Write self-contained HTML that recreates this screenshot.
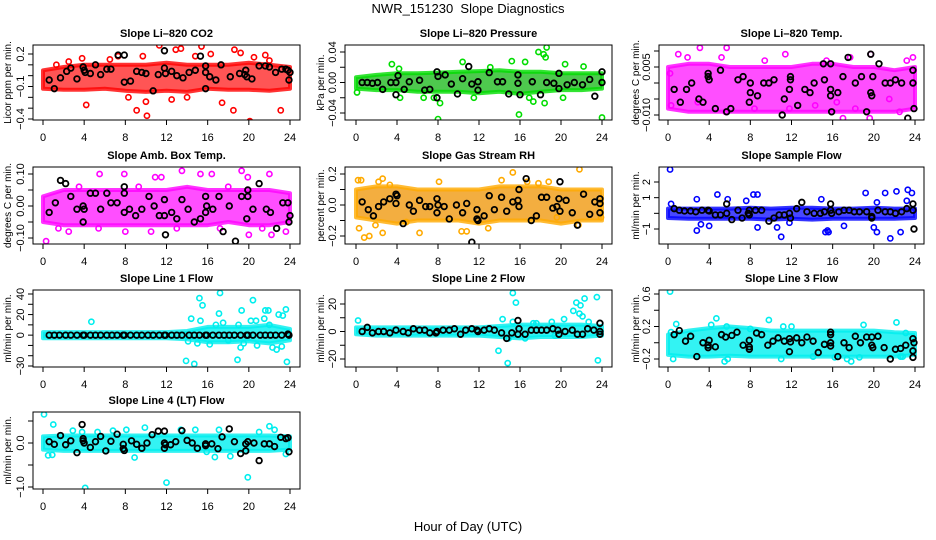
<!DOCTYPE html>
<html><head><meta charset="utf-8">
<style>
html,body{margin:0;padding:0;background:#fff;}
svg{display:block;font-family:"Liberation Sans",Arial,sans-serif;}
</style></head>
<body>
<svg id="chart" width="936" height="540" viewBox="0 0 936 540" xmlns="http://www.w3.org/2000/svg">
<text x="468" y="13" text-anchor="middle" font-size="13" style="white-space:pre">NWR_151230  Slope Diagnostics</text>
<text x="468" y="531" text-anchor="middle" font-size="13">Hour of Day (UTC)</text>
</svg>
<script>
const bandHours=[0,2,4,6,8,10,12,14,16,18,20,22,24];
const xTicks=[0,4,8,12,16,20,24];

const co2BandLo=[-0.12,-0.13,-0.13,-0.12,-0.14,-0.15,-0.14,-0.15,-0.12,-0.13,-0.13,-0.14,-0.12];
const co2BandHi=[0.05,0.08,0.1,0.1,0.1,0.1,0.12,0.1,0.1,0.1,0.12,0.1,0.08];
const co2OutX=[4.2,9.1,10.1,10.0,11.5,11.3,7.3,6.5,12.9,13.4,15.4,14.8,18.6,19.2,19.7,20.1,18.5,23.1,21.6,20.5,22.0,16.3,2.5,1.3,3.8,9.7,14.0,17.4,8.3,12.5];
const co2OutY=[-0.27,-0.32,-0.37,-0.24,-0.47,0.28,0.18,0.15,0.24,0.25,0.27,0.18,0.24,0.21,-0.49,-0.42,-0.32,-0.32,0.19,0.17,0.14,0.2,0.13,0.1,0.16,0.18,-0.2,-0.25,-0.2,-0.22];
const co2BlkX=[0.6,1.1,1.7,2.3,2.7,3.3,3.9,4.0,4.1,4.6,5.1,5.6,6.2,6.6,7.3,7.9,7.9,8.5,9.1,9.6,10.0,10.7,11.2,11.8,11.8,11.9,12.5,13.0,13.6,14.2,14.8,15.3,15.8,15.8,15.8,16.2,16.8,17.3,18.2,19.1,19.6,19.7,19.8,20.3,21.0,21.6,22.0,22.6,23.2,23.6,23.8,23.9,24.0];
const co2BlkY=[-0.04,-0.12,-0.02,0.04,0.07,-0.03,0.08,0.05,0.03,0.02,0.1,0.01,0.06,0.06,0.19,0.19,-0.06,-0.05,0.04,0.03,0.02,-0.14,0.01,0.23,0.07,0.02,0.04,0.0,-0.02,0.03,0.05,0.18,0.03,0.09,-0.12,-0.01,-0.04,0.1,-0.01,0.02,0.01,0.05,-0.01,-0.03,0.09,0.09,0.08,0.03,0.06,0.06,0.05,-0.04,0.03];

const presBandLo=[-0.008,-0.01,-0.01,-0.012,-0.012,-0.012,-0.014,-0.012,-0.015,-0.012,-0.01,-0.01,-0.008];
const presBandHi=[0.007,0.01,0.012,0.012,0.013,0.014,0.015,0.016,0.014,0.014,0.012,0.012,0.012];
const presOutX=[0.1,3.5,4.2,8.0,8.2,7.6,10.4,15.2,16.5,15.9,17.8,18.3,18.6,18.5,18.4,17.3,20.4,20.2,22.2,24.0,11.5,16.9,6.6,13.1,4.3];
const presOutY=[-0.013,0.024,0.018,-0.048,-0.027,-0.02,0.027,0.028,0.027,-0.042,0.04,0.037,0.046,0.033,-0.027,-0.025,0.024,-0.02,0.021,-0.046,-0.02,-0.02,-0.02,0.02,-0.02];
const presBlkX=[0.6,1.1,1.6,2.1,2.6,3.4,3.9,3.9,4.1,4.7,5.2,6.2,6.7,7.2,7.9,7.9,8.0,8.7,9.3,9.9,10.4,11.0,11.3,11.9,11.9,13.0,13.8,14.3,14.9,15.8,15.8,16.0,17.2,18.0,18.6,19.3,19.8,19.8,20.6,21.3,22.1,22.8,23.3,24,24];
const presBlkY=[0,0,-0.001,0,-0.009,0,0,-0.016,0.009,-0.009,0.001,0.003,-0.01,-0.009,-0.02,0.014,0.008,0.01,-0.002,-0.015,0.005,0.021,-0.002,0.001,-0.01,0.013,0.001,0.001,-0.015,0.01,-0.001,-0.016,0.001,-0.016,0,-0.001,-0.008,0.012,-0.003,0,-0.003,0.004,-0.018,0.014,0];

const tempBandLo=[-0.008,-0.009,-0.009,-0.009,-0.009,-0.009,-0.009,-0.009,-0.009,-0.009,-0.009,-0.009,-0.008];
const tempBandHi=[0.005,0.006,0.006,0.005,0.005,0.005,0.005,0.006,0.006,0.005,0.005,0.004,0.005];
const tempOutX=[1.0,3.1,1.9,5.2,5.6,5.7,9.4,11.4,15.4,17.0,17.7,19.6,19.7,18.2,22.5,23.8,23.2,0.3,2.9,8.4,11.8,14.3,16.4,21.5,0.2];
const tempOutY=[0.009,0.011,0.008,0.008,-0.009,0.011,0.007,0.009,0.007,-0.011,0.008,-0.011,0.009,-0.008,-0.009,0.008,0.007,-0.007,-0.006,-0.008,-0.008,-0.007,-0.006,-0.005,0.003];
const tempBlkX=[0.6,1.2,1.8,2.3,3.0,3.4,3.9,3.9,4.0,5.1,4.6,5.7,6.1,6.8,7.3,7.9,8.0,8.0,8.7,9.3,9.8,10.3,11.3,11.8,11.9,11.9,11.1,12.6,13.3,13.8,14.2,15.1,15.2,15.8,15.8,15.9,15.8,16.5,17.0,17.5,18.2,18.8,19.3,19.7,19.7,19.9,19.8,20.5,21.1,21.6,22.1,22.7,23.3,23.8,23.8,23.9];
const tempBlkY=[-0.002,-0.006,-0.002,0.0,-0.005,-0.006,0.002,0.003,0.001,0.004,-0.008,-0.009,-0.008,0.001,0.002,-0.006,0.0,-0.003,-0.004,0.0,0.0,0.001,-0.005,-0.002,0.001,0.002,-0.01,-0.007,-0.002,-0.003,0.0,0.006,0.001,0.006,-0.002,-0.009,-0.004,-0.003,0.002,0.008,0.0,0.002,-0.009,0.009,-0.003,0.002,-0.004,0.006,0.0,0.0,0.001,0.0,-0.011,0.004,0.0,-0.008];

const ambBandLo=[-0.05,-0.06,-0.06,-0.06,-0.06,-0.06,-0.06,-0.06,-0.06,-0.05,-0.06,-0.06,-0.05];
const ambBandHi=[0.03,0.05,0.05,0.05,0.05,0.05,0.05,0.06,0.05,0.05,0.05,0.05,0.04];
const ambOutX=[0.3,2.5,5.5,7.9,10.9,11.5,13.5,15.3,16.4,19.3,19.9,22.0,22.2,23.6,20.0,10.5,5.4,1.5,8.0,13.0,17.2,21.3,3.5,9.3,18.0];
const ambOutY=[-0.11,-0.08,0.1,0.1,0.09,0.09,0.11,0.1,0.1,0.11,0.09,0.1,-0.09,-0.08,-0.09,-0.08,-0.07,-0.07,-0.08,-0.07,-0.07,-0.07,0.06,0.06,0.06];
const ambBlkX=[0.6,1.2,1.7,2.2,2.7,3.3,3.9,3.9,4.0,4.6,5.1,5.6,6.2,6.6,7.2,7.9,7.9,7.9,8.4,9.0,9.6,10.3,10.8,11.3,11.8,11.8,11.9,12.5,13.0,13.5,14.1,14.7,15.3,15.8,15.8,15.9,16.5,17.1,17.5,18.1,18.7,19.3,19.8,19.9,19.9,20.4,21.0,21.7,22.1,22.7,23.3,23.8,23.9,24.0];
const ambBlkY=[-0.02,0.01,0.08,0.07,0.03,-0.01,-0.05,0.0,-0.01,0.04,0.04,-0.01,0.04,0.01,0.01,0.06,-0.02,0.04,-0.01,-0.03,-0.01,0.03,0.0,-0.03,-0.03,0.02,-0.09,-0.02,-0.04,0.02,-0.01,-0.05,-0.04,0.03,-0.02,0.0,-0.01,0.03,-0.08,0.0,-0.11,0.03,-0.04,0.05,0.03,-0.01,0.07,-0.01,-0.02,-0.07,0.01,0.01,-0.05,-0.03];

const rhBandLo=[-0.08,-0.1,-0.12,-0.1,-0.1,-0.1,-0.12,-0.1,-0.1,-0.1,-0.12,-0.1,-0.1];
const rhBandHi=[0.1,0.12,0.12,0.1,0.1,0.1,0.1,0.12,0.12,0.12,0.1,0.1,0.1];
const rhOutX=[0.2,0.5,0.3,0.8,1.3,1.9,2.2,2.6,2.6,3.3,6.2,8.1,10.3,10.8,14.2,15.3,16.7,17.8,21.8,21.7,23.9,12.9,19.6,18.8,4.9];
const rhOutY=[0.16,0.16,-0.15,-0.21,-0.2,-0.13,0.15,0.17,-0.18,0.13,-0.18,0.15,-0.17,-0.17,0.16,0.21,0.15,0.14,0.23,-0.13,-0.08,-0.15,-0.08,0.15,-0.11];
const rhBlkX=[0.6,1.2,1.7,2.2,2.7,3.3,3.9,3.9,4.0,4.6,5.2,5.6,6.2,6.8,7.2,7.9,7.9,8.0,8.6,9.1,9.8,10.4,10.8,11.3,11.8,11.8,11.9,12.5,13.0,13.5,14.2,14.7,15.3,15.8,15.9,15.9,16.6,17.1,17.6,18.1,18.6,19.2,19.6,19.9,19.8,19.9,20.5,21.1,21.6,22.2,22.8,23.3,23.8,23.8,23.8];
const rhBlkY=[0.02,-0.03,-0.07,-0.01,0.02,0.04,0.07,0.01,0.06,-0.12,0.0,-0.04,0.03,-0.01,-0.01,0.04,-0.05,0.0,-0.01,-0.09,0.0,-0.05,0.01,-0.24,-0.03,-0.09,-0.1,-0.07,0.06,-0.03,0.05,-0.04,0.02,0.03,-0.01,0.1,0.17,-0.1,-0.07,0.05,0.05,-0.02,-0.01,0.15,0.04,-0.04,0.03,-0.05,-0.13,0.07,-0.06,0.02,0.04,0.01,-0.05];

const sfBandLo=[-0.3,-0.35,-0.35,-0.35,-0.35,-0.4,-0.35,-0.4,-0.35,-0.35,-0.35,-0.35,-0.3];
const sfBandHi=[0.3,0.3,0.3,0.3,0.35,0.3,0.35,0.35,0.3,0.3,0.35,0.3,0.3];
const sfOutX=[0.2,0.3,2.8,2.8,3.2,4.0,4.8,5.8,8.3,8.7,8.7,10.6,11.0,14.9,15.3,15.5,15.6,17.1,19.2,20.0,20.3,20.3,21.1,21.6,22.2,22.6,23.3,23.7,23.2,11.8,7.6];
const sfOutY=[2.8,0.6,-1.1,0.9,-0.7,-0.8,1.2,0.9,1.2,1.2,-0.9,-0.9,-1.5,0.9,-1.2,-1.1,-1.2,-0.8,1.3,-0.9,-1.2,0.7,1.3,-1.6,1.4,-1.2,1.5,1.3,0.8,-0.6,0.8];
const sfBlkX=[0.6,1.1,1.6,2.2,2.7,3.3,3.9,4.0,4.6,5.1,5.7,5.7,6.2,6.8,7.2,7.8,7.9,7.9,8.5,9.1,9.8,10.3,10.8,11.3,11.8,11.9,12.5,13.0,13.5,14.2,14.8,15.2,15.8,15.8,15.9,16.6,17.1,17.6,18.1,18.6,19.3,19.8,19.8,20.4,21.1,21.6,22.1,22.7,23.2,23.8,23.8,23.9];
const sfBlkY=[0.3,0.2,0.15,0.15,0.1,0.2,0.2,0.15,-0.1,-0.1,0.6,0.0,-0.4,0.2,-0.3,0.0,0.2,-0.1,0.2,0.2,-0.5,-0.3,-0.1,-0.1,0.0,-0.3,0.3,0.7,0.1,0.0,0.0,0.1,0.6,0.2,0.0,0.1,0.2,0.2,0.1,0.1,0.1,-0.2,-0.3,0.2,0.1,0.1,0.0,0.1,0.3,0.6,0.2,-1.0];

const l1BandLo=[-3,-3,-3,-3,-3,-3,-3,-4,-7,-7,-6,-8,-5];
const l1BandHi=[3,3,3,3,3,3,3,4,8,8,8,10,6];
const l1OutX=[4.7,13.9,14.4,14.7,15.2,15.5,15.3,16.2,16.8,17.2,17.1,17.5,18.0,18.9,19.0,19.2,19.3,19.5,20.2,20.4,20.7,20.8,21.5,21.6,21.9,22.3,22.7,22.9,23.2,23.3,23.6,23.7,22.0,15.0,14.1];
const l1OutY=[13,-25,16,-28,36,29,14,-9,10,41,21,12,-5,-24,10,-12,24,-8,14,34,14,-10,16,24,24,-12,-14,20,-11,19,25,-26,10,-8,-6];
const l1BlkX=[0.6,1.1,1.6,2.2,2.7,3.3,3.9,4.0,4.6,5.1,5.6,6.2,6.7,7.2,7.8,7.9,8.5,9.1,9.6,10.2,10.7,11.3,11.8,11.9,12.5,13.0,13.5,14.2,14.7,15.2,15.8,15.9,16.5,17.1,17.6,18.1,18.6,19.2,19.8,19.9,20.4,21.1,21.6,22.1,22.6,23.2,23.8,23.9];
const l1BlkY=[0,0,0,0,0,0,0,0,0,0,0,0,0,0,0,0,0,0,0,0,0,0,0,0,0,0,0,0,0,0,0,0,0,0,0,0,0,0,0,0,0,0,0,0,0,0,1,0];

const l2BandLo=[-2,-3,-3,-3,-3,-3,-3,-4,-5,-4,-4,-4,-3];
const l2BandHi=[3,3,3,3,3,3,3,4,5,5,5,5,4];
const l2OutX=[0.2,13.9,14.3,14.8,14.9,15.3,15.6,15.3,17.3,17.6,19.1,20.3,21.2,21.5,21.8,21.9,22.1,22.3,22.7,23.5,23.6,16.5,19.4];
const l2OutY=[8,-14,9,-23,-5,28,21,7,6,6,7,9,15,21,13,19,11,24,7,25,-21,-5,-3];
const l2BlkX=[0.6,1.1,1.6,2.2,2.7,3.3,3.9,4.6,5.1,5.6,6.2,6.7,7.2,7.8,7.9,8.5,9.1,9.6,10.2,10.7,11.3,11.8,11.9,12.5,13.0,13.5,14.2,14.7,15.2,15.8,15.8,15.9,16.5,17.1,17.6,18.1,18.6,19.2,19.7,19.8,20.4,21.1,21.6,22.1,22.6,23.2,23.8,23.8,23.8];
const l2BlkY=[0,3,-1,0,0,-1,1,0,-1,2,1,1,-1,-1,0,1,1,2,-2,1,2,1,0,1,2,1,-1,-5,-1,8,-2,2,-2,1,1,1,1,2,1,-2,0,1,-2,-2,2,1,6,0,-2];

const l3BandLo=[-0.15,-0.17,-0.17,-0.16,-0.17,-0.17,-0.17,-0.17,-0.17,-0.17,-0.17,-0.17,-0.15];
const l3BandHi=[0.1,0.15,0.18,0.2,0.18,0.15,0.15,0.15,0.15,0.15,0.15,0.13,0.12];
const l3OutX=[0.2,0.5,0.8,4.7,5.5,5.8,9.8,11.0,14.1,16.2,17.4,17.8,18.6,19.0,22.2,22.6,22.8,23.1,0.3,4.2,5.7,8.0,11.2,12.0];
const l3OutY=[0.63,-0.2,0.23,0.3,-0.23,-0.2,0.28,-0.2,-0.17,-0.18,-0.2,-0.23,-0.18,0.22,0.25,-0.17,-0.17,0.12,0.13,0.22,0.2,0.17,0.2,0.2];
const l3BlkX=[0.6,1.1,1.7,2.2,2.8,3.4,3.9,3.9,4.0,4.6,5.2,5.6,6.2,6.7,7.3,7.9,7.9,7.9,8.6,9.1,9.7,10.2,10.7,11.3,11.8,11.8,11.9,12.5,13.0,13.5,14.1,14.6,15.2,15.8,15.8,15.8,15.8,16.5,17.1,17.6,18.2,18.7,19.3,19.8,19.8,19.9,20.4,21.0,21.6,22.1,22.6,23.1,23.8,23.8,23.8,23.9];
const l3BlkY=[0.1,0.15,0.02,0.08,-0.17,0.0,-0.06,-0.03,0.03,-0.05,0.1,0.07,0.09,0.13,-0.03,0.03,-0.08,-0.05,0.12,0.1,-0.03,0.02,0.06,0.02,0.05,-0.11,0.01,0.06,0.0,0.07,0.02,-0.12,-0.02,0.13,0.1,0.0,-0.04,-0.17,0.0,-0.06,0.08,0.0,0.07,-0.03,0.07,-0.06,0.08,-0.06,-0.2,-0.08,-0.07,-0.03,0.05,-0.1,-0.18,0.0];

const l4BandLo=[-0.15,-0.18,-0.18,-0.18,-0.18,-0.18,-0.18,-0.18,-0.18,-0.18,-0.18,-0.18,-0.15];
const l4BandHi=[0.15,0.17,0.17,0.17,0.17,0.17,0.17,0.17,0.17,0.17,0.17,0.17,0.15];
const l4OutX=[0.1,1.0,0.5,0.9,4.1,3.8,5.3,6.8,8.1,8.9,9.9,12.0,13.4,16.7,17.1,18.2,19.9,21.0,22.0,22.5,23.6,2.9,14.8,15.9];
const l4OutY=[0.65,0.42,-0.28,-0.27,-1.02,0.25,0.25,0.28,0.3,-0.33,0.35,-0.9,0.3,-0.32,0.3,-0.3,-0.78,0.25,0.38,0.3,-0.25,0.28,0.3,-0.2];
const l4BlkX=[0.6,1.1,1.7,2.2,2.7,3.3,3.8,3.9,3.9,4.0,4.6,5.1,5.6,6.1,6.6,7.2,7.8,7.8,7.9,8.6,9.1,9.6,10.1,10.6,11.2,11.8,11.8,11.9,11.8,12.4,12.9,13.5,14.0,14.5,15.0,15.8,15.8,16.4,17.0,17.4,18.1,18.6,19.2,19.7,19.7,19.9,20.5,21.0,21.5,22.0,22.5,23.1,23.6,23.8,23.9];
const l4BlkY=[0.03,-0.03,0.17,-0.04,0.05,-0.22,0.42,0.1,0.05,0.0,-0.1,0.03,0.15,-0.18,0.04,0.2,-0.03,-0.13,-0.17,0.05,-0.03,-0.12,0.0,0.19,0.27,0.27,0.0,-0.04,-0.12,-0.04,0.03,0.28,0.06,0.0,-0.12,-0.02,-0.06,-0.02,-0.13,0.14,0.32,0.03,-0.24,-0.02,-0.18,0.03,0.0,-0.4,-0.02,-0.02,-0.08,0.13,0.1,0.12,-0.2];

const cols=[{l:33,r:300,x0:43,x24:290,yt:7,yl:20},{l:345,r:612,x0:356,x24:602,yt:320,yl:338},{l:659,r:924,x0:668,x24:915,yt:635,yl:652}];
const rows=[{t:45,b:120},{t:167,b:244},{t:290,b:367},{t:412,b:489}];

const panels=[
 {id:'co2',title:'Slope Li\u2013820 CO2',ylab:'Licor ppm per min.',c:0,r:0,color:'#ff0000',fill:'#ff2a2a',v1:0.2,p1:54,v2:-0.4,p2:119,ticks:[0.2,0.1,0,-0.1,-0.2,-0.3,-0.4],labels:[0.2,-0.1,-0.4],fmt:1,lo:co2BandLo,hi:co2BandHi,ox:co2OutX,oy:co2OutY,bx:co2BlkX,by:co2BlkY},
 {id:'pressure',title:'Slope Li\u2013820 Pressure',ylab:'kPa per min.',c:1,r:0,color:'#00dd00',fill:'#22bb22',v1:0.04,p1:52,v2:-0.04,p2:113,ticks:[0.04,0.02,0,-0.02,-0.04],labels:[0.04,0,-0.04],fmt:2,lo:presBandLo,hi:presBandHi,ox:presOutX,oy:presOutY,bx:presBlkX,by:presBlkY},
 {id:'temp',title:'Slope Li\u2013820 Temp.',ylab:'degrees C per min.',c:2,r:0,color:'#ff00ff',fill:'#ff22ff',v1:0.005,p1:67,v2:-0.01,p2:115,ticks:[0.01,0.005,0,-0.005,-0.01],labels:[0.005,-0.01],fmt:3,lo:tempBandLo,hi:tempBandHi,ox:tempOutX,oy:tempOutY,bx:tempBlkX,by:tempBlkY},
 {id:'amb-box-temp',title:'Slope Amb. Box Temp.',ylab:'degrees C per min.',c:0,r:1,color:'#ff00ff',fill:'#ff22ff',v1:0.1,p1:174,v2:-0.1,p2:238,ticks:[0.1,0.05,0,-0.05,-0.1],labels:[0.1,0,-0.1],fmt:2,lo:ambBandLo,hi:ambBandHi,ox:ambOutX,oy:ambOutY,bx:ambBlkX,by:ambBlkY},
 {id:'gas-stream-rh',title:'Slope Gas Stream RH',ylab:'percent per min.',c:1,r:1,color:'#ffaa00',fill:'#f09a10',v1:0.2,p1:174,v2:-0.2,p2:236,ticks:[0.2,0.1,0,-0.1,-0.2],labels:[0.2,0,-0.2],fmt:1,lo:rhBandLo,hi:rhBandHi,ox:rhOutX,oy:rhOutY,bx:rhBlkX,by:rhBlkY},
 {id:'sample-flow',title:'Slope Sample Flow',ylab:'ml/min per min.',c:2,r:1,color:'#0000ff',fill:'#1a1aff',v1:2,p1:182,v2:-1,p2:229,ticks:[2,1,0,-1],labels:[2,1,-1],fmt:0,lo:sfBandLo,hi:sfBandHi,ox:sfOutX,oy:sfOutY,bx:sfBlkX,by:sfBlkY},
 {id:'line1-flow',title:'Slope Line 1 Flow',ylab:'ml/min per min.',c:0,r:2,color:'#00eeee',fill:'#00f0f0',v1:40,p1:294,v2:-30,p2:366,ticks:[40,30,20,10,0,-10,-20,-30],labels:[40,20,0,-30],fmt:0,lo:l1BandLo,hi:l1BandHi,ox:l1OutX,oy:l1OutY,bx:l1BlkX,by:l1BlkY},
 {id:'line2-flow',title:'Slope Line 2 Flow',ylab:'ml/min per min.',c:1,r:2,color:'#00eeee',fill:'#00f0f0',v1:20,p1:304,v2:-20,p2:359,ticks:[20,10,0,-10,-20],labels:[20,0,-20],fmt:0,lo:l2BandLo,hi:l2BandHi,ox:l2OutX,oy:l2OutY,bx:l2BlkX,by:l2BlkY},
 {id:'line3-flow',title:'Slope Line 3 Flow',ylab:'ml/min per min.',c:2,r:2,color:'#00eeee',fill:'#00f0f0',v1:0.6,p1:294,v2:-0.2,p2:359,ticks:[0.6,0.4,0.2,0,-0.2],labels:[0.6,0.2,-0.2],fmt:1,lo:l3BandLo,hi:l3BandHi,ox:l3OutX,oy:l3OutY,bx:l3BlkX,by:l3BlkY},
 {id:'line4-flow',title:'Slope Line 4 (LT) Flow',ylab:'ml/min per min.',c:0,r:3,color:'#00eeee',fill:'#00f0f0',v1:0,p1:443,v2:-1,p2:487,ticks:[0.5,0,-0.5,-1],labels:[0,-1],fmt:1,lo:l4BandLo,hi:l4BandHi,ox:l4OutX,oy:l4OutY,bx:l4BlkX,by:l4BlkY}
];

const NS='http://www.w3.org/2000/svg';
const svg=document.getElementById('chart');
function mk(tag,attrs,parent){const e=document.createElementNS(NS,tag);for(const k in attrs)e.setAttribute(k,attrs[k]);(parent||svg).appendChild(e);return e;}

panels.forEach(p=>{
  const col=cols[p.c],row=rows[p.r];
  const xs=h=>col.x0+(col.x24-col.x0)*h/24;
  const ys=v=>p.p1+(p.p2-p.p1)*(v-p.v1)/(p.v2-p.v1);
  const g=mk('g',{});
  
  
  const cx=(col.l+col.r)/2;
  const t=mk('text',{x:cx,y:row.t-8,'text-anchor':'middle','font-size':'11','font-weight':'bold'},g);
  t.textContent=p.title;
  
  
  const cp=mk('clipPath',{id:'cp-'+p.id},g);
  mk('rect',{x:col.l,y:row.t,width:col.r-col.l,height:row.b-row.t},cp);
  const pg=mk('g',{'clip-path':'url(#cp-'+p.id+')'},g);
  let d='';
  bandHours.forEach((h,i)=>{d+=(i?'L':'M')+xs(h).toFixed(1)+','+ys(p.hi[i]).toFixed(1);});
  for(let i=bandHours.length-1;i>=0;i--)d+='L'+xs(bandHours[i]).toFixed(1)+','+ys(p.lo[i]).toFixed(1);
  const band=mk('path',{d:d+'Z',fill:p.fill,'fill-opacity':'0.8',stroke:p.color,'stroke-opacity':'0.8','stroke-width':'4','stroke-linejoin':'round'},pg);
  
  
  p.ox.forEach((h,i)=>{
    const c=mk('circle',{cx:xs(h),cy:ys(p.oy[i]),r:2.6,fill:'none',stroke:p.color,'stroke-width':'1.6'},pg);
    
    
  });
  p.bx.forEach((h,i)=>{
    const c=mk('circle',{cx:xs(h),cy:ys(p.by[i]),r:2.8,fill:'none',stroke:'#000','stroke-width':'1.8'},pg);
    
    
  });
  const box=mk('rect',{x:col.l,y:row.t,width:col.r-col.l,height:row.b-row.t,fill:'none',stroke:'#000','stroke-width':'1'},g);
  
  
  xTicks.forEach(h=>{
    mk('line',{x1:xs(h),x2:xs(h),y1:row.b,y2:row.b+5,stroke:'#000'},g);
    const tl=mk('text',{x:xs(h),y:row.b+21,'text-anchor':'middle','font-size':'11'},g);
    tl.textContent=h;
    
    
  });
  p.ticks.forEach(v=>{mk('line',{x1:col.l-5,x2:col.l,y1:ys(v),y2:ys(v),stroke:'#000'},g);});
  p.labels.forEach(v=>{
    const yy=ys(v);
    const tl=mk('text',{x:0,y:0,'text-anchor':'middle','font-size':'11',transform:'translate('+(col.l-9)+','+yy+') rotate(-90)'},g);
    tl.textContent=(v===0&&p.fmt===0)?'0':v.toFixed(p.fmt).replace('-','\u2212');
    
    
  });
  const yl=mk('text',{x:0,y:0,'text-anchor':'middle','font-size':'10',transform:'translate('+(col.yt+4)+','+((row.t+row.b)/2)+') rotate(-90)'},g);
  yl.textContent=p.ylab;
  
  
});
</script>
</body></html>
